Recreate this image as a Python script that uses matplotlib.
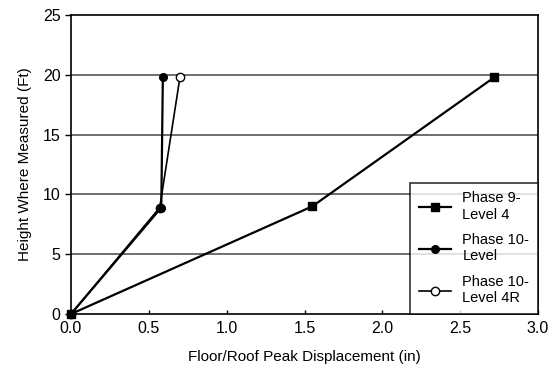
import matplotlib
matplotlib.use('Agg')
import matplotlib.pyplot as plt

plt.rcParams['font.family'] = ['Liberation Sans', 'DejaVu Sans']

# displacement (in) and height (ft) for each run
p9_x = [0.0, 1.55, 2.72]
p9_y = [0.0, 9.0, 19.8]
p10_x = [0.0, 0.58, 0.59]
p10_y = [0.0, 8.9, 19.8]
p10r_x = [0.0, 0.57, 0.70]
p10r_y = [0.0, 8.9, 19.8]

labels = ['Phase 9-\nLevel 4', 'Phase 10-\nLevel', 'Phase 10-\nLevel 4R']

fig = plt.figure(figsize=(5.49, 3.71), dpi=100)
ax = fig.add_axes([71/549, 57/371, 467/549, 299/371])

for y in [5, 10, 15, 20]:
    ax.axhline(y, color='#555555', lw=1.2, zorder=0)

# draw open circles first so the filled ones sit on top
h3, = ax.plot(p10r_x, p10r_y, color='black', lw=1.2, marker='o', ms=6,
              mfc='white', mec='black', label=labels[2], clip_on=False)
h2, = ax.plot(p10_x, p10_y, color='black', lw=1.6, marker='o', ms=5.5,
              label=labels[1], clip_on=False)
h1, = ax.plot(p9_x, p9_y, color='black', lw=1.6, marker='s', ms=6,
              label=labels[0], clip_on=False, zorder=5)

ax.set_xlim(0, 3.0)
ax.set_ylim(0, 25)
ax.set_xticks([0, 0.5, 1.0, 1.5, 2.0, 2.5, 3.0])
ax.set_xticklabels(['0.0', '0.5', '1.0', '1.5', '2.0', '2.5', '3.0'])
ax.set_yticks([0, 5, 10, 15, 20, 25])
ax.tick_params(labelsize=11.5, length=4, width=1)
ax.tick_params(axis='x', direction='in', length=3, pad=5)
for s in ax.spines.values():
    s.set_linewidth(1.2)

ax.set_xlabel('Floor/Roof Peak Displacement (in)', fontsize=11, labelpad=10)
ax.set_ylabel('Height Where Measured (Ft)', fontsize=11, labelpad=8)

leg = ax.legend(handles=[h1, h2, h3], loc='lower right', fontsize=10.5,
                frameon=True, fancybox=False, edgecolor='black',
                handlelength=2.2, borderaxespad=0, labelspacing=0.8,
                borderpad=0.6)
leg.get_frame().set_linewidth(1.2)
leg.set_zorder(10)

fig.savefig('out.png', dpi=100)
